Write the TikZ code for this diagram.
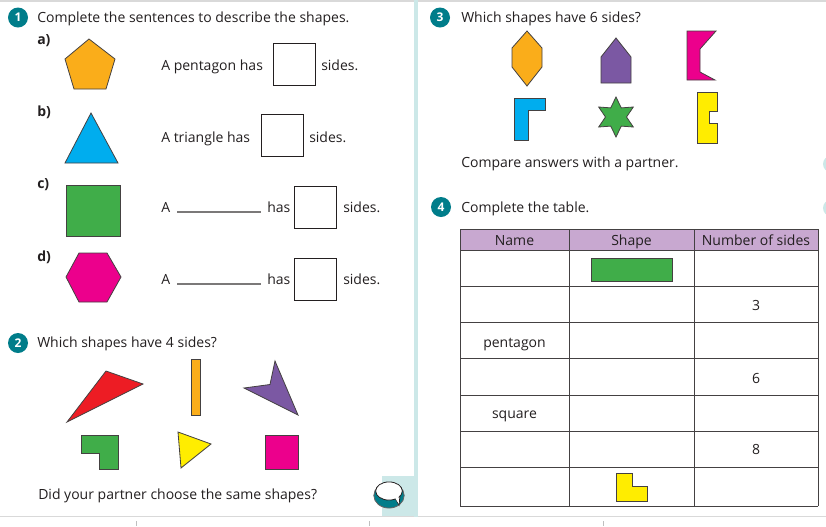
\documentclass[tikz,border=0pt]{standalone}
\usepackage{fontspec}
\setmainfont{Open Sans}
\usetikzlibrary{shapes.geometric}
\definecolor{ws_teal}{RGB}{0,125,138}
\definecolor{ws_pale}{RGB}{204,232,232}
\definecolor{ws_orange}{RGB}{250,173,26}
\definecolor{ws_cyan}{RGB}{0,173,238}
\definecolor{ws_green}{RGB}{64,173,73}
\definecolor{ws_pink}{RGB}{236,0,140}
\definecolor{ws_red}{RGB}{237,28,36}
\definecolor{ws_purple}{RGB}{123,88,163}
\definecolor{ws_yellow}{RGB}{255,237,0}
\definecolor{ws_lilac}{RGB}{200,168,208}
\definecolor{ws_ink}{RGB}{35,31,32}
\tikzstyle{badge}=[circle,fill=ws_teal,text=white,font=\bfseries\fontsize{9}{10}\selectfont,
  inner sep=0pt,minimum size=15pt]
\tikzstyle{shp}=[draw=ws_ink!85,line width=0.6pt]
\tikzstyle{txt}=[anchor=base west,inner sep=0pt,text=ws_ink,font=\fontsize{10.5}{12}\selectfont]
\tikzstyle{lbl}=[txt,font=\bfseries\fontsize{10.5}{12}\selectfont]
\tikzstyle{cell}=[anchor=base,inner sep=0pt,text=ws_ink,font=\fontsize{10.5}{12}\selectfont]
\tikzstyle{ansbox}=[draw=ws_ink,line width=0.6pt,inner sep=0pt,
  minimum width=31.5pt,minimum height=31.5pt]
\tikzstyle{blank}=[draw=ws_ink!60,line width=0.9pt]

\begin{document}
\begin{tikzpicture}[x=0.75pt,y=-0.75pt]
    \clip (0,0) rectangle (826,526);
    \fill[white] (0,0) rectangle (826,526);
    % page frame
    \draw[gray!30,line width=1.5pt] (0,0.5) -- (826,0.5);
    \draw[gray!30,line width=1.2pt] (0,516.5) -- (826,516.5);
    \foreach \tx in {136,369,603}
      \draw[gray!50,line width=0.5pt] (\tx,521) -- (\tx,526);
    \fill[ws_pale] (414,0) rectangle (418,517);
    \fill[ws_pale] (382,476) rectangle (414,516);
    \fill[ws_pale] (831,164) circle (6pt);
    \fill[ws_pale] (831,208) circle (6pt);

    % question 1
    \node[badge] (q1) at (18,17.5) {1};
    \node[txt] (t1) at (37,22) {Complete the sentences to describe the shapes.};
    \node[lbl] (la) at (37,44) {a)};
    \draw[shp,fill=ws_orange] (89,39) -- (115,59) -- (106,89) -- (74,89) -- (65,59) -- cycle;
    \node[txt] (sa) at (161,70) {A pentagon has};
    \node[ansbox] (ba) at (294,64) {};
    \node[txt] (ea) at (321,70) {sides.};
    \node[lbl] (lb) at (37,116) {b)};
    \draw[shp,fill=ws_cyan] (91,113) -- (118,163) -- (65,163) -- cycle;
    \node[txt] (sb) at (161,142) {A triangle has};
    \node[ansbox] (bb) at (282,135) {};
    \node[txt] (eb) at (309,142) {sides.};
    \node[lbl] (lc) at (37,188) {c)};
    \draw[shp,fill=ws_green] (66,185) rectangle (120,236);
    \node[txt] (sc) at (161,212) {A};
    \draw[blank] (177,212) -- (261,212);
    \node[txt] (hc) at (267,212) {has};
    \node[ansbox] (bc) at (315.5,207) {};
    \node[txt] (ec) at (343,212) {sides.};
    \node[lbl] (ld) at (37,261) {d)};
    \draw[shp,fill=ws_pink] (66,277) -- (79,253) -- (107,253) -- (121,277)
      -- (107,302) -- (79,302) -- cycle;
    \node[txt] (sd) at (161,284) {A};
    \draw[blank] (177,284) -- (261,284);
    \node[txt] (hd) at (267,284) {has};
    \node[ansbox] (bd) at (315.5,279) {};
    \node[txt] (ed) at (343,284) {sides.};

    % question 2
    \node[badge] (q2) at (18,343) {2};
    \node[txt] (t2) at (37,347) {Which shapes have 4 sides?};
    \draw[shp,fill=ws_red] (106,371) -- (143,384) -- (67,422) -- cycle;
    \draw[shp,fill=ws_orange] (191,359) rectangle (200,415);
    \draw[shp,fill=ws_purple] (275,361) -- (298,415) -- (244,388) -- (270,384.5) -- cycle;
    \draw[shp,fill=ws_green] (81,435) -- (118,435) -- (118,469) -- (99,469) -- (99,453)
      -- (81,453) -- cycle;
    \draw[shp,fill=ws_yellow] (178,432) -- (211,444) -- (181,468) -- cycle;
    \draw[shp,fill=ws_pink] (265,435) rectangle (298,469);
    \node[txt] (p2) at (38,499) {Did your partner choose the same shapes?};
    % talk bubble
    \draw[ws_ink!70,fill=ws_teal,line width=0.6pt] (389,495.5) ellipse (11.4pt and 9.4pt);
    \draw[ws_ink,fill=white,line width=0.6pt] (395,498) -- (399,505) -- (400,496);
    \fill[white] (389,491) ellipse (10pt and 6.8pt);
    \draw[ws_ink,line width=0.6pt] (389,491) ellipse (10pt and 6.8pt);
    \fill[white] (394.5,497) -- (399,504) -- (398.5,496) -- cycle;

    % question 3
    \node[badge] (q3) at (440,17.5) {3};
    \node[txt] (t3) at (461,22) {Which shapes have 6 sides?};
    \draw[shp,fill=ws_orange] (527,31) -- (542,48) -- (542,67) -- (527,86) -- (512,67)
      -- (512,48) -- cycle;
    \draw[shp,fill=ws_purple] (616,38) -- (631,57) -- (631,83) -- (601,83) -- (601,57) -- cycle;
    \draw[shp,fill=ws_pink] (687,31) -- (716,31) -- (700,49) -- (700,72) -- (715,80)
      -- (687,80) -- cycle;
    \draw[shp,fill=ws_cyan] (514,98) -- (545,98) -- (545,110) -- (528,110) -- (528,140)
      -- (514,140) -- cycle;
    \node[shp,fill=ws_green,star,star points=6,star point ratio=1.9,
      minimum size=30pt,inner sep=0pt] (star) at (616,117) {};
    \draw[shp,fill=ws_yellow] (697,92) -- (717,92) -- (717,111) -- (709,111) -- (709,123)
      -- (717,123) -- (717,143) -- (697,143) -- cycle;
    \node[txt] (p3) at (461,167) {Compare answers with a partner.};

    % question 4
    \node[badge] (q4) at (441,207) {4};
    \node[txt] (t4) at (461,212) {Complete the table.};
    \fill[ws_lilac] (460,229) rectangle (818,250);
    \foreach \ry in {229,250,286,322,358,395,431,467,506}
      \draw[ws_ink!85,line width=0.75pt] (460,\ry) -- (818,\ry);
    \foreach \cx in {460,569,694,818}
      \draw[ws_ink!85,line width=0.75pt] (\cx,229) -- (\cx,506);
    \node[cell] (hn) at (514.5,245) {Name};
    \node[cell] (hs) at (631.5,245) {Shape};
    \node[cell] (hk) at (756,245) {Number of sides};
    \draw[shp,fill=ws_green] (591,258) rectangle (672,281);
    \node[cell] (n3) at (756,310) {3};
    \node[cell] (np) at (514.5,347) {pentagon};
    \node[cell] (n6) at (756,383) {6};
    \node[cell] (ns) at (514.5,418) {square};
    \node[cell] (n8) at (756,454) {8};
    \draw[shp,fill=ws_yellow] (616,473) -- (632,473) -- (632,486) -- (647,486) -- (647,501)
      -- (616,501) -- cycle;
  \end{tikzpicture}
\end{document}
